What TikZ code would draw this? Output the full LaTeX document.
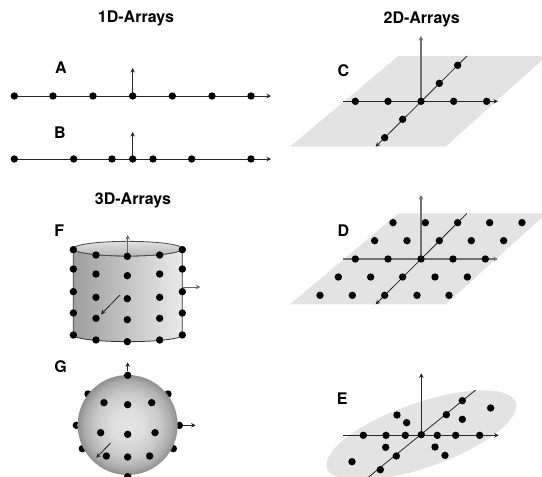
\documentclass[tikz,border=0pt]{standalone}
\usepackage{fontspec}
\setmainfont{TeX Gyre Heros}
\usetikzlibrary{arrows.meta}
\pgfdeclareradialshading{ballshade}{\pgfpoint{0bp}{0bp}}{color(0bp)=(black!11); color(8bp)=(black!13); color(16bp)=(black!21); color(22bp)=(black!33); color(25bp)=(black!44); color(50bp)=(black!44)}
\tikzset{
  dot/.style={circle,fill=black,draw=none,inner sep=0pt,minimum size=7.4pt},
  ttl/.style={font=\fontsize{16}{18}\selectfont\bfseries,inner sep=0pt},
  axis/.style={line width=0.8pt,draw=black!85,-{Stealth[length=4.5pt,width=4.5pt]}},
  grayaxis/.style={axis,line width=1.1pt,draw=black!55},
  plane/.style={fill=black!11,draw=none},
  z3/.style={shift={(#1)},x=0.33333pt,y=-0.33333pt}
}
\begin{document}
\begin{tikzpicture}[x=1pt,y=-1pt]
\useasboundingbox (0,0) rectangle (542,477);
\clip (0,0) rectangle (542,477);
% titles
\node[ttl] (t1) at (136,18) {1D-Arrays};
\node[ttl] (t2) at (421.7,19) {2D-Arrays};
\node[ttl] (t3) at (133,200) {3D-Arrays};
% A, B
\node[ttl] (la) at (61,68) {A};
\node[ttl] (lb) at (60,133) {B};
\coordinate (aL) at (14.3,96); \coordinate (aR) at (271,96);
\coordinate (aO) at (132.7,96); \coordinate (aU) at (132.7,68);
\draw[axis] (aL) -- (aR); \draw[axis] (aO) -- (aU);
\foreach \x [count=\i] in {14.3,53,93,132.7,172.3,212,251}
  \node[dot] (a\i) at (\x,96) {};
\coordinate (bL) at (14.3,159); \coordinate (bR) at (271,159);
\coordinate (bO) at (132.7,159); \coordinate (bU) at (132.7,132);
\draw[axis] (bL) -- (bR); \draw[axis] (bO) -- (bU);
\foreach \x [count=\i] in {14.3,73.7,112,132.7,153,191.7,251}
  \node[dot] (b\i) at (\x,159) {};
% C
\begin{scope}[z3={280,0}]
\fill[plane] (355,168) -- (800,168) -- (497,440) -- (30,440) -- cycle;
\node[ttl] (lc) at (190,211) {C};
\coordinate (cO) at (423,304); \coordinate (cU) at (423,108);
\coordinate (cL) at (190,304); \coordinate (cR) at (654,304);
\coordinate (cD1) at (561,168); \coordinate (cD2) at (287,440);
\draw[grayaxis] (cO) -- (cU);
\draw[axis] (cL) -- (cR);
\draw[axis] (cD1) -- (cD2);
\foreach \x/\y [count=\i] in {226/304,324/304,423/304,521/304,620/304,533/196,478/250,368/358,314/413}
  \node[dot] (c\i) at (\x,\y) {};
\end{scope}
% D
\begin{scope}[z3={280,170}]
\fill[plane] (355,130) -- (800,130) -- (497,403) -- (30,403) -- cycle;
\node[ttl] (ld) at (190,183) {D};
\coordinate (dO) at (423,267); \coordinate (dU) at (423,75);
\coordinate (dL) at (190,267); \coordinate (dR) at (654,267);
\coordinate (dD1) at (561,130); \coordinate (dD2) at (287,403);
\draw[grayaxis] (dO) -- (dU);
\draw[grayaxis] (dL) -- (dR);
\draw[axis] (dD1) -- (dD2);
\foreach \x/\y [count=\i] in {339/158,436/158,533/158,629/158,726/158,
  284/212,381/212,478/212,574/212,671/212,
  226/267,324/267,423/267,519/267,616/267,
  175/321,272/321,368/321,465/321,562/321,
  120/376,217/376,314/376,411/376,507/376}
  \node[dot] (d\i) at (\x,\y) {};
\end{scope}
% E
\begin{scope}[z3={280,330}]
\fill[plane,rotate around={19.3:(424,316)}] (424,316) ellipse [x radius=300,y radius=97];
\node[ttl] (le) at (187,205) {E};
\coordinate (eO) at (424,316); \coordinate (eU) at (424,130);
\coordinate (eL) at (190,316); \coordinate (eR) at (656,316);
\coordinate (eD1) at (587,180); \coordinate (eD2) at (240,462);
\draw[axis] (eO) -- (eU);
\draw[axis] (eL) -- (eR);
\draw[axis] (eD1) -- (eD2);
\foreach \x/\y [count=\i] in {250/316,318/316,376/316,424/314,472/316,527/316,599/316,
  547/212,499/254,632/234,547/268,351/255,380/278,317/352,349/378,301/419,216/395,465/351,495/376}
  \node[dot] (e\i) at (\x,\y) {};
\end{scope}
% F
\begin{scope}[z3={20,190}]
\node[ttl] (lf) at (118,122) {F};
\path[draw=black!80,line width=0.8pt,left color=black!38,right color=black!8]
  (160,176) -- (160,435) arc [start angle=180,end angle=0,x radius=163.5,y radius=20] -- (487,176)
  arc [start angle=0,end angle=180,x radius=163.5,y radius=22] -- cycle;
\path[draw=black!70,line width=0.8pt,top color=black!12,middle color=black!6,bottom color=black!28]
  (323.5,176) ellipse [x radius=163.5,y radius=22];
\coordinate (fO) at (323,199); \coordinate (fU) at (323,135);
\coordinate (fR1) at (487,291); \coordinate (fR2) at (541,291);
\coordinate (fD1) at (300,315); \coordinate (fD2) at (243,373);
\draw[axis,draw=black!60] (fO) -- (fU);
\draw[axis,draw=black!60] (fR1) -- (fR2);
\draw[axis] (fD1) -- (fD2);
\foreach \x/\y [count=\i] in {160/179,160/237,160/305,160/369,160/435,
  228/195,228/252,228/322,228/385,228/450,
  322/199,322/257,322/326,322/389,322/455,
  419/195,419/252,419/322,419/385,419/450,
  487/179,487/237,487/305,487/369,487/435}
  \node[dot] (f\i) at (\x,\y) {};
\end{scope}
% G
\begin{scope}[z3={20,350}]
\node[ttl] (lg) at (122,50) {G};
\foreach \x/\y [count=\i] in {204/132,444/132,169/226,478/226,187/296,460/296}
  \node[dot] (gb\i) at (\x,\y) {};
\coordinate (gU) at (323,37); \coordinate (gR) at (527,226);
\coordinate (gD1) at (272,279); \coordinate (gD2) at (229,323);
\shade[shading=ballshade] (323,225) circle [radius=150];
\node[dot] (gt) at (323,76) {};
\node[dot] (gbot) at (323,380) {};
\draw[axis] (gt) -- (gU);
\draw[axis] (gb4) -- (gR);
\draw[axis] (gD1) -- (gD2);
\foreach \x/\y [count=\i] in {252/158,323/164,395/158,242/248,323/253,405/248,259/318,323/321,389/318}
  \node[dot] (g\i) at (\x,\y) {};
\end{scope}
\end{tikzpicture}
\end{document}
